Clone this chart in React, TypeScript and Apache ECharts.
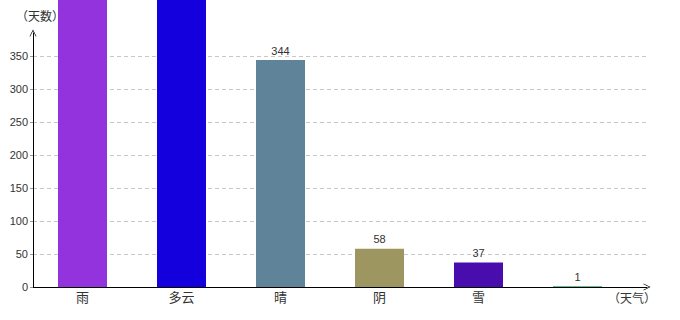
import React, { useEffect, useRef } from "react";
import * as echarts from "echarts";

const categories = ["雨", "多云", "晴", "阴", "雪", ""];
const values = [512, 476, 344, 58, 37, 1];
const barColors = ["#9233DE", "#1300DC", "#5F8399", "#9E9661", "#4A0DAD", "#2FA872"];
const yTicks = [0, 50, 100, 150, 200, 250, 300, 350];
const yMax = 385;

const arrow = "path://M0,10 L5,0 L10,10 L9,10 L5,2 L1,10 Z";
const font = "Liberation Sans, Arial, sans-serif";
const cjk = "Noto Sans CJK SC, sans-serif";
const cjkName = "'Noto Sans CJK KR', 'Noto Sans CJK SC', sans-serif";

export default function App() {
  const ref = useRef<HTMLDivElement>(null);
  useEffect(() => {
    if (!ref.current) return;
    const chart = echarts.init(ref.current, undefined, { renderer: "svg" });
    chart.setOption({
      animation: false,
      textStyle: { fontFamily: font },
      grid: [
        { left: 33, right: 33, top: 33, bottom: 33 },
        { left: 33, right: 53, top: 33, bottom: 33 },
      ],
      xAxis: [
        {
          gridIndex: 0,
          type: "value",
          min: 0,
          max: 1,
          axisLine: { show: true, lineStyle: { color: "#000", width: 1 }, symbol: ["none", arrow], symbolSize: [9, 7] },
          axisTick: { show: false },
          axisLabel: { show: false },
          splitLine: { show: false },
          name: "（天气）",
          nameLocation: "end",
          nameGap: -15,
          nameTextStyle: { color: "#333", fontSize: 12, fontFamily: cjkName, align: "center", verticalAlign: "top", padding: [4, 0, 0, 0] },
        },
        {
          gridIndex: 1,
          type: "category",
          data: categories,
          axisLine: { show: false },
          axisTick: { show: false },
          axisLabel: { color: "#333", fontSize: 13, fontFamily: cjk, margin: 3 },
        },
      ],
      yAxis: [
        {
          gridIndex: 0,
          type: "value",
          min: 0,
          max: yMax,
          interval: 50,
          axisLine: { show: true, lineStyle: { color: "#000", width: 1 }, symbol: ["none", arrow], symbolSize: [9, 7] },
          axisTick: { show: true, length: 3, lineStyle: { color: "#999" } },
          axisLabel: {
            color: "#333",
            fontSize: 11,
            margin: 5,
            showMaxLabel: false,
            formatter: (v: number) => (yTicks.includes(v) ? String(v) : ""),
          },
          splitLine: { show: true, showMaxLine: false, lineStyle: { color: "#c8c8c8", type: [4, 3] } },
          name: "（天数）",
          nameLocation: "end",
          nameGap: 12,
          nameTextStyle: { color: "#333", fontSize: 12, fontFamily: cjkName, padding: [0, 0, 0, 14] },
        },
        {
          gridIndex: 1,
          type: "value",
          min: 0,
          max: yMax,
          show: false,
        },
      ],
      series: [
        {
          type: "bar",
          xAxisIndex: 1,
          yAxisIndex: 1,
          clip: false,
          barWidth: 49,
          data: values.map((v, i) => ({
            value: v,
            itemStyle: { color: barColors[i] },
            label: { show: v <= yMax },
          })),
          label: { show: true, position: "top", distance: 4, color: "#333", fontSize: 11 },
        },
      ],
    });
    return () => chart.dispose();
  }, []);
  return <div ref={ref} style={{ position: "absolute", left: 0, top: 0, width: 680, height: 320 }} />;
}
